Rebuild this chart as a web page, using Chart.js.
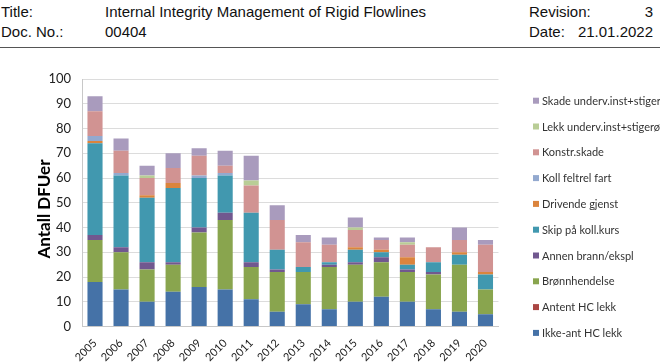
<!DOCTYPE html>
<html>
<head>
<meta charset="utf-8">
<script src="https://cdn.jsdelivr.net/npm/chart.js@4/dist/chart.umd.min.js"></script>
<style>
  html, body { margin: 0; padding: 0; background: #fff; }
  body { width: 660px; height: 362px; position: relative; overflow: hidden; font-family: "Liberation Sans", Arial, sans-serif; }
  .h { position: absolute; font-size: 15px; color: #111; white-space: nowrap; line-height: 15px; }
  .rule { position: absolute; left: 0; top: 47px; width: 660px; height: 1px; background: #555; }
  #wrap { position: absolute; left: 0; top: 50px; width: 660px; height: 312px; }
</style>
</head>
<body>
<div class="h" style="left:1px; top:4px;">Title:</div>
<div class="h" style="left:105px; top:4px;">Internal Integrity Management of Rigid Flowlines</div>
<div class="h" style="left:529px; top:4px;">Revision:</div>
<div class="h" style="right:7px; top:4px;">3</div>
<div class="h" style="left:1px; top:24px;">Doc. No.:</div>
<div class="h" style="left:105px; top:24px;">00404</div>
<div class="h" style="left:529px; top:24px;">Date:</div>
<div class="h" style="right:7px; top:24px;">21.01.2022</div>
<div class="rule"></div>
<div id="wrap"><canvas id="c" width="660" height="312"></canvas></div>
<script>
const years = ['2005','2006','2007','2008','2009','2010','2011','2012','2013','2014','2015','2016','2017','2018','2019','2020'];
const ikkeAntHC   = [18,15,10,14,16,15,11, 6, 9, 7,10,12,10, 7, 6, 5];
const antentHC    = [ 0, 0, 0, 0, 0, 0, 0, 0, 0, 0, 0, 0, 0, 0, 0, 0];
const bronn       = [17,15,13,11,22,28,13,16,13,17,15,14,12,14,19,10];
const annenBrann  = [ 2, 2, 3, 1, 2, 3, 2, 1, 0, 1, 1, 2, 1, 1, 0, 0];
const skipKoll    = [37,29,26,30,20,15,20, 8, 2, 1, 5, 2, 2, 4, 4, 6];
const drivende    = [ 1, 0, 1, 2, 0, 0, 0, 0, 0, 0, 1, 1, 3, 0, 1, 1];
const kollFelt    = [ 2, 1, 0, 0, 1, 1, 0, 0, 0, 0, 0, 0, 0, 0, 0, 0];
const konstr      = [10, 9, 7, 6, 8, 3,11,12,10, 7, 7, 4, 5, 6, 5,11];
const lekkUnderv  = [ 0, 0, 1, 0, 0, 0, 2, 0, 0, 0, 1, 0, 1, 0, 0, 0];
const skadeUnderv = [ 6, 5, 4, 6, 3, 6,10, 6, 3, 3, 4, 1, 2, 0, 5, 2];
const yTicks = [0,10,20,30,40,50,60,70,80,90,100];
const yTitle = 'Antall DFUer';

const seriesNames = ['Ikke-ant HC lekk','Antent HC lekk','Brønnhendelse','Annen brann/ekspl','Skip på koll.kurs','Drivende gjenst','Koll feltrel fart','Konstr.skade','Lekk underv.inst+stigerør','Skade underv.inst+stigerør'];
const seriesData = [ikkeAntHC, antentHC, bronn, annenBrann, skipKoll, drivende, kollFelt, konstr, lekkUnderv, skadeUnderv];
const seriesColors = ['#4572a7','#aa4643','#89a54e','#71588f','#4198af','#db843d','#93a9cf','#d19392','#b9cd96','#a99bbd'];

const CHART_FONT = 'Lato, "Open Sans", sans-serif';

const customDraw = {
  id: 'customDraw',
  afterDraw(chart) {
    const ctx = chart.ctx;
    ctx.save();
    // legend (reverse order)
    const ds = chart.data.datasets;
    ctx.font = '11px ' + CHART_FONT;
    ctx.textBaseline = 'middle';
    ctx.textAlign = 'left';
    for (let i = 0; i < ds.length; i++) {
      const d = ds[ds.length - 1 - i];
      const cy = 100.7 - 50 + i * 25.8;
      ctx.fillStyle = d.backgroundColor;
      ctx.fillRect(533, cy - 3, 6, 6);
      ctx.fillStyle = '#333';
      ctx.fillText(d.label, 542, cy + 0.5);
    }
    // y axis title
    ctx.translate(45, 209 - 50);
    ctx.rotate(-Math.PI / 2);
    ctx.font = 'bold 17px ' + CHART_FONT;
    ctx.fillStyle = '#000';
    ctx.textAlign = 'center';
    ctx.textBaseline = 'middle';
    ctx.fillText(yTitle, 0, 0);
    ctx.restore();
  }
};

new Chart(document.getElementById('c'), {
  type: 'bar',
  data: {
    labels: years,
    datasets: seriesNames.map((n, i) => ({
      label: n,
      data: seriesData[i],
      backgroundColor: seriesColors[i],
      borderWidth: 0,
      barPercentage: 0.58,
      categoryPercentage: 1.0
    }))
  },
  options: {
    responsive: false,
    animation: false,
    devicePixelRatio: 1,
    layout: { padding: { top: 29, right: 161.5, left: 0, bottom: 0 } },
    plugins: { legend: { display: false }, tooltip: { enabled: false }, title: { display: false } },
    scales: {
      x: {
        stacked: true,
        grid: { display: false },
        border: { display: true, color: '#c8c8c8', width: 1 },
        ticks: { font: { family: CHART_FONT, size: 11 }, color: '#222', minRotation: 45, maxRotation: 45, padding: 2, autoSkip: false },
        afterFit(scale) { scale.height = 35.5; }
      },
      y: {
        stacked: true,
        min: 0, max: 100,
        afterBuildTicks(scale) { scale.ticks = yTicks.map(v => ({ value: v })); },
        grid: { color: '#dcdcdc', lineWidth: 1, drawTicks: false },
        border: { display: true, color: '#c8c8c8', width: 1 },
        ticks: { font: { family: CHART_FONT, size: 13 }, color: '#222', padding: 11 },
        afterFit(scale) { scale.width = 82; }
      }
    }
  },
  plugins: [customDraw]
});
</script>
</body>
</html>
